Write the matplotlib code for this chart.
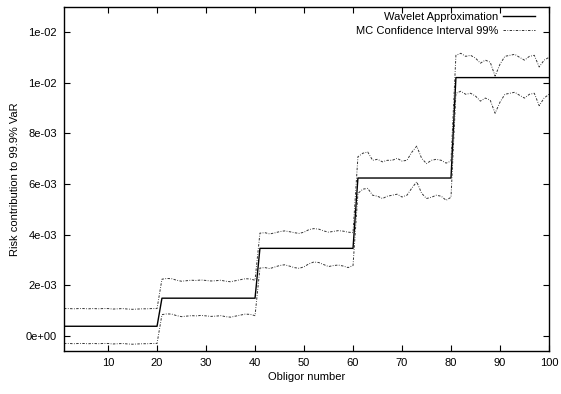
import numpy as np
import matplotlib
matplotlib.use("Agg")
import matplotlib.pyplot as plt

plt.rcParams['font.family'] = ['Liberation Sans', 'DejaVu Sans']

obligors = list(range(1, 101))

# Wavelet approximation: one level per block of 20 obligors
wavelet_levels = [0.38e-3, 1.49e-3, 3.46e-3, 6.24e-3, 10.21e-3]
block_size = 20

# MC 99% confidence interval bounds (in units of 1e-3)
ci_upper_e3 = [
    1.08, 1.08, 1.07, 1.08, 1.08, 1.07, 1.08, 1.07, 1.08, 1.08,
    1.06, 1.07, 1.08, 1.06, 1.05, 1.06, 1.07, 1.07, 1.08, 1.08,
    2.24, 2.27, 2.26, 2.20, 2.16, 2.18, 2.20, 2.19, 2.21, 2.19,
    2.17, 2.18, 2.20, 2.16, 2.14, 2.18, 2.22, 2.26, 2.25, 2.20,
    4.06, 4.08, 4.03, 4.07, 4.12, 4.15, 4.12, 4.08, 4.05, 4.10,
    4.20, 4.24, 4.22, 4.15, 4.10, 4.13, 4.16, 4.14, 4.10, 4.08,
    7.08, 7.22, 7.27, 6.94, 6.98, 6.88, 6.94, 6.94, 7.02, 6.91,
    6.94, 7.26, 7.50, 7.02, 6.81, 6.94, 6.98, 6.94, 6.83, 6.91,
    11.09, 11.17, 11.05, 11.09, 10.98, 10.78, 10.90, 10.82, 10.27, 10.74,
    11.05, 11.09, 11.13, 11.01, 10.90, 11.05, 11.09, 10.63, 10.90, 11.01,
]
ci_lower_e3 = [
    -0.30, -0.30, -0.31, -0.30, -0.30, -0.31, -0.30, -0.31, -0.30, -0.30,
    -0.32, -0.31, -0.30, -0.32, -0.33, -0.32, -0.31, -0.31, -0.30, -0.30,
    0.84, 0.87, 0.86, 0.80, 0.76, 0.78, 0.80, 0.79, 0.81, 0.79,
    0.77, 0.78, 0.80, 0.76, 0.74, 0.78, 0.82, 0.86, 0.85, 0.80,
    2.68, 2.70, 2.66, 2.72, 2.78, 2.81, 2.76, 2.70, 2.67, 2.73,
    2.85, 2.92, 2.90, 2.82, 2.74, 2.78, 2.80, 2.76, 2.70, 2.78,
    5.63, 5.80, 5.83, 5.56, 5.52, 5.43, 5.52, 5.56, 5.60, 5.49,
    5.56, 5.84, 6.09, 5.64, 5.43, 5.48, 5.56, 5.52, 5.36, 5.48,
    9.59, 9.67, 9.55, 9.59, 9.48, 9.28, 9.40, 9.32, 8.80, 9.24,
    9.55, 9.59, 9.63, 9.51, 9.40, 9.55, 9.59, 9.10, 9.40, 9.55,
]

x_ticks = [10, 20, 30, 40, 50, 60, 70, 80, 90, 100]
y_ticks = [0.0, 0.002, 0.004, 0.006, 0.008, 0.010, 0.012]
y_tick_labels = ["0e+00", "2e-03", "4e-03", "6e-03", "8e-03", "1e-02", "1e-02"]

x = np.array(obligors)
wavelet = np.repeat(wavelet_levels, block_size)
upper = np.array(ci_upper_e3) * 1e-3
lower = np.array(ci_lower_e3) * 1e-3

fig = plt.figure(figsize=(5.61, 3.94), dpi=100)
ax = fig.add_axes([0.114, 0.109, 0.8646, 0.8732])

ax.plot(x, wavelet, color='black', lw=1.0, label='Wavelet Approximation')
dash = (0, (2.5, 1.5, 0.8, 1.5))
ax.plot(x, upper, color='#333333', lw=0.7, linestyle=dash,
        label='MC Confidence Interval 99%')
ax.plot(x, lower, color='#333333', lw=0.7, linestyle=dash)

ax.set_xlim(1, 100)
ax.set_ylim(-0.0006, 0.013)
ax.set_xticks(x_ticks)
ax.set_xticklabels([str(t) for t in x_ticks])
ax.set_yticks(y_ticks)
ax.set_yticklabels(y_tick_labels)

ax.tick_params(direction='in', length=4, width=0.8, top=True, right=True,
               labelsize=8, pad=5)
for s in ax.spines.values():
    s.set_linewidth(1.0)
    s.set_color('black')

ax.set_xlabel('Obligor number', fontsize=8, labelpad=3)
ax.set_ylabel('Risk contribution to 99.9% VaR', fontsize=8, labelpad=4)

leg = ax.legend(loc='upper right', bbox_to_anchor=(0.981, 0.999),
                frameon=False, markerfirst=False,
                fontsize=8, handlelength=2.9, handletextpad=0.45,
                labelspacing=0.35, borderaxespad=0.0)

fig.savefig('out.png', dpi=100)
